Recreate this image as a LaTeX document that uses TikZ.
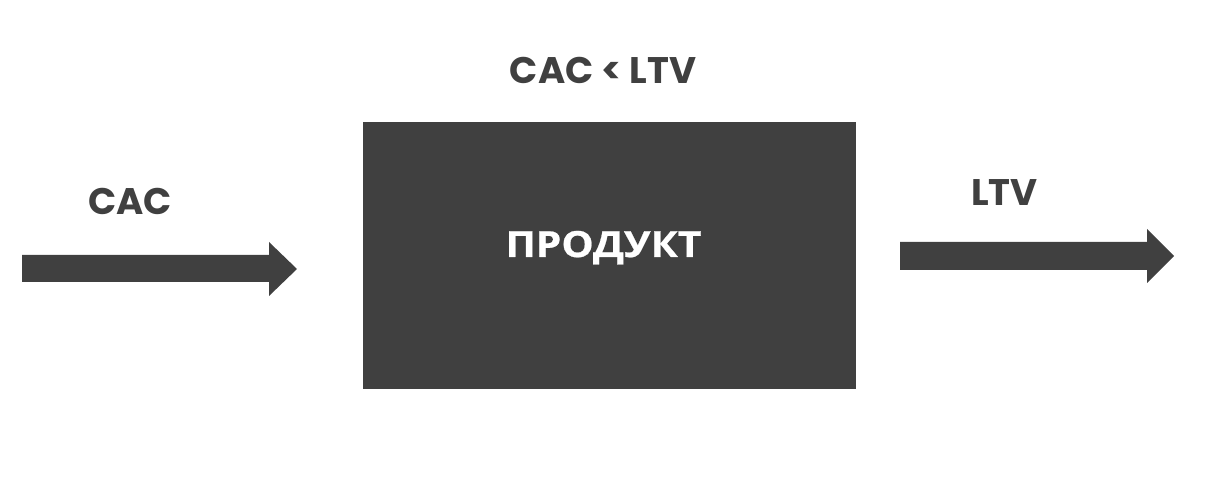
\documentclass[tikz,border=0pt]{standalone}
\usepackage{fontspec}
\setmainfont{Poppins}[BoldFont={* Bold}]
\newfontfamily\cyrfont{Open Sans}[BoldFont={* Bold},FakeStretch=1.13,BoldFeatures={FakeBold=0.6}]
\definecolor{dark}{HTML}{404040}
\begin{document}
\begin{tikzpicture}[x=1pt,y=1pt,
  lbl/.style={anchor=base,inner sep=0pt,text=dark,font=\fontsize{37}{40}\selectfont\bfseries},
  blockarrow/.style={fill=dark,draw=none}]
\useasboundingbox (0,0) rectangle (1228,492);
% product box
\fill[dark] (363,103) rectangle (856,370);
\node (prod) [lbl,text=white,font=\cyrfont\fontsize{36}{40}\selectfont\bfseries] at (603.5,235) {ПРОДУКТ};
\node (ineq) [lbl] at (603,408) {CAC < LTV};
\node (cac) [lbl] at (130,277) {CAC};
\node (ltv) [lbl] at (1004.5,286) {LTV};
% left arrow
\fill[blockarrow] (22,237) -- (269,237) -- (269,250) -- (297,223) -- (269,196) -- (269,210) -- (22,210) -- cycle;
% right arrow
\fill[blockarrow] (900,250) -- (1147,250) -- (1147,263) -- (1174,236) -- (1147,209) -- (1147,222) -- (900,222) -- cycle;
\end{tikzpicture}
\end{document}
